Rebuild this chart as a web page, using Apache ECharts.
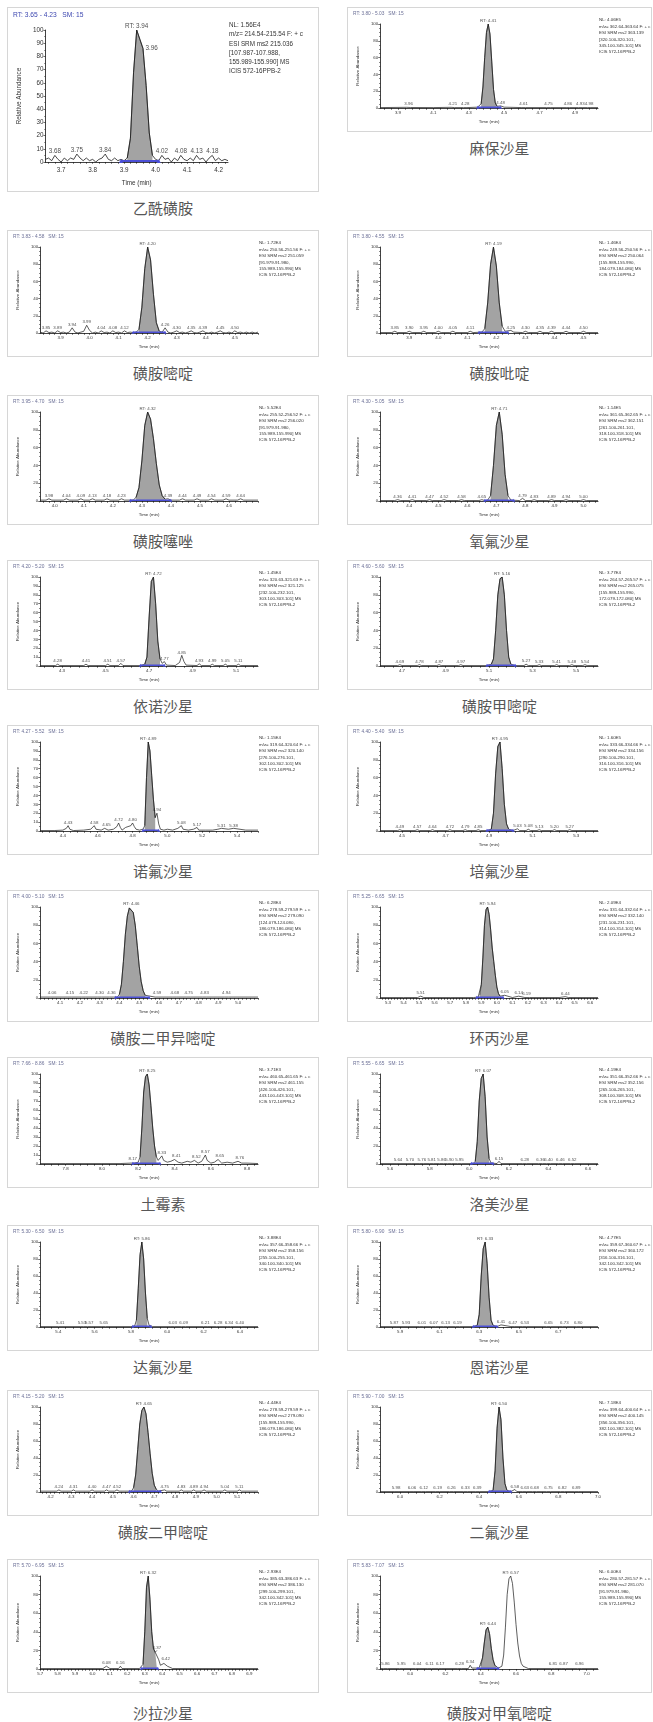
<!DOCTYPE html>
<html>
<head>
<meta charset="utf-8">
<script src="https://cdn.jsdelivr.net/npm/echarts@6/dist/echarts.min.js"></script>
<style>
  body { margin: 0; background: #fff; }
  #page { position: relative; width: 653px; height: 1722px; background: #fff; }
  .panel { position: absolute; border: 1px solid #d6d6d6; background: #fff; }
  .panel .chart { position: absolute; left: 0; top: 0; }
  .cap {
    position: absolute; width: 300px; margin-left: -150px; text-align: center;
    font-family: 'Noto Sans CJK SC', sans-serif; font-size: 15px; color: #575757;
    line-height: 20px; margin-top: -10px;
  }
</style>
</head>
<body>
<div id="page"></div>
<script>
  // ---- data ----
  const names = ['乙酰磺胺', '麻保沙星', '磺胺嘧啶', '磺胺吡啶', '磺胺噻唑', '氧氟沙星', '依诺沙星', '磺胺甲嘧啶',
    '诺氟沙星', '培氟沙星', '磺胺二甲异嘧啶', '环丙沙星', '土霉素', '洛美沙星', '达氟沙星', '恩诺沙星',
    '磺胺二甲嘧啶', '二氟沙星', '沙拉沙星', '磺胺对甲氧嘧啶'];

  const xRanges = [[3.65, 4.23], [3.80, 5.03], [3.83, 4.58], [3.80, 4.55], [3.95, 4.70], [4.30, 5.05], [4.20, 5.20],
    [4.60, 5.60], [4.27, 5.52], [4.40, 5.40], [4.00, 5.10], [5.25, 6.65], [7.66, 8.86], [5.55, 6.65], [5.30, 6.50],
    [5.80, 6.90], [4.15, 5.20], [5.90, 7.00], [5.70, 6.95], [5.83, 7.065]];

  const xTicks = [
    [3.7, 3.8, 3.9, 4.0, 4.1, 4.2],
    [3.9, 4.1, 4.3, 4.5, 4.7, 4.9],
    [3.9, 4.0, 4.1, 4.2, 4.3, 4.4, 4.5],
    [3.9, 4.0, 4.1, 4.2, 4.3, 4.4, 4.5],
    [4.0, 4.1, 4.2, 4.3, 4.4, 4.5, 4.6],
    [4.4, 4.5, 4.6, 4.7, 4.8, 4.9, 5.0],
    [4.3, 4.5, 4.7, 4.9, 5.1],
    [4.7, 4.9, 5.1, 5.3, 5.5],
    [4.4, 4.6, 4.8, 5.0, 5.2, 5.4],
    [4.5, 4.7, 4.9, 5.1, 5.3],
    [4.1, 4.2, 4.3, 4.4, 4.5, 4.6, 4.7, 4.8, 4.9, 5.0],
    [5.3, 5.4, 5.5, 5.6, 5.7, 5.8, 5.9, 6.0, 6.1, 6.2, 6.3, 6.4, 6.5, 6.6],
    [7.8, 8.0, 8.2, 8.4, 8.6, 8.8],
    [5.6, 5.8, 6.0, 6.2, 6.4, 6.6],
    [5.4, 5.6, 5.8, 6.0, 6.2, 6.4],
    [5.9, 6.1, 6.3, 6.5, 6.7],
    [4.2, 4.3, 4.4, 4.5, 4.6, 4.7, 4.8, 4.9, 5.0, 5.1],
    [6.0, 6.2, 6.4, 6.6, 6.8, 7.0],
    [5.7, 5.8, 5.9, 6.0, 6.1, 6.2, 6.3, 6.4, 6.5, 6.6, 6.7, 6.8, 6.9],
    [6.0, 6.2, 6.4, 6.6, 6.8, 7.0]
  ];

  const yTicks = [10, 20, 20, 20, 20, 20, 10, 20, 10, 20, 20, 20, 10, 20, 20, 20, 20, 20, 20, 20];

  // integrated (grey) peak and blue baseline limits, minutes
  const fills = [[3.905, 3.995], [4.36, 4.46], [4.165, 4.245], [4.155, 4.225], [4.275, 4.385], [4.675, 4.745],
    [4.675, 4.755], [5.105, 5.205], [4.865, 4.935], [4.905, 4.995], [4.395, 4.535], [5.885, 6.025], [8.205, 8.305],
    [6.025, 6.105], [5.825, 5.895], [6.285, 6.375], [4.595, 4.715], [6.465, 6.545], [6.285, 6.37], [6.395, 6.495]];
  const bases = [[3.89, 4.01], [4.35, 4.48], [4.15, 4.26], [4.14, 4.24], [4.26, 4.40], [4.66, 4.76], [4.66, 4.77],
    [5.09, 5.22], [4.86, 4.95], [4.89, 5.01], [4.38, 4.55], [5.87, 6.04], [8.17, 8.32], [6.01, 6.12], [5.81, 5.91],
    [6.27, 6.39], [4.58, 4.73], [6.45, 6.56], [6.28, 6.375], [6.38, 6.50]];

  const nl = ['1.56E4', '4.06E5', '1.72E4', '1.46E4', '5.52E4', '1.14E5', '1.45E4', '3.77E4', '1.15E4', '1.60E5',
    '6.28E4', '2.09E4', '3.71E3', '4.19E4', '3.88E4', '4.77E5', '4.44E4', '7.18E4', '2.93E4', '6.00E4'];
  const precursors = ['215.036', '363.139', '251.059', '250.064', '256.020', '362.151', '321.125', '265.075',
    '320.140', '334.156', '279.090', '332.140', '461.155', '352.156', '358.156', '360.172', '279.090', '400.145',
    '386.130', '281.070'];
  const products = ['107.987-107.988, 155.989-155.990', '320.100-320.101, 345.100-345.101', '91.979-91.980, 155.989-155.990',
    '155.989-155.990, 184.079-184.080', '91.979-91.980, 155.989-155.990', '261.100-261.101, 318.100-318.101',
    '232.100-232.101, 303.100-303.101', '155.989-155.990, 172.079-172.080', '276.100-276.101, 302.100-302.101',
    '290.100-290.101, 316.100-316.101', '124.079-124.080, 186.079-186.080', '231.100-231.101, 314.100-314.101',
    '426.100-426.101, 443.100-443.101', '265.100-265.101, 308.100-308.101', '255.100-255.101, 340.100-340.101',
    '316.100-316.101, 342.100-342.101', '155.989-155.990, 186.079-186.080', '356.100-356.101, 382.100-382.101',
    '299.100-299.101, 342.100-342.101', '91.979-91.980, 155.989-155.990'];

  // chromatogram traces: [time (min), relative abundance %]
  const tr1 = [[3.65,2],[3.66,3],[3.67,1],[3.68,5],[3.69,2],[3.70,0],[3.71,3],[3.72,1],[3.73,3],[3.74,2],[3.75,6],[3.76,3],[3.77,1],[3.78,3],[3.79,1],[3.80,2],[3.81,0],[3.82,2],[3.83,3],[3.84,6],[3.85,2],[3.86,1],[3.87,3],[3.88,1],[3.89,2],[3.90,1],[3.91,3],[3.92,18],[3.93,68],[3.94,100],[3.95,93],[3.96,86],[3.97,58],[3.98,22],[3.99,5],[4.00,2],[4.01,1],[4.02,5],[4.03,2],[4.04,3],[4.05,0],[4.06,3],[4.07,1],[4.08,5],[4.09,2],[4.10,1],[4.11,3],[4.12,1],[4.13,5],[4.14,2],[4.15,3],[4.16,0],[4.17,3],[4.18,5],[4.19,1],[4.20,3],[4.21,1],[4.22,2],[4.23,1]];
  const tr2 = [[3.80,0.5],[3.95,0.8],[3.96,2],[3.97,0.6],[4.10,0.5],[4.20,0.8],[4.21,2],[4.22,0.5],[4.27,0.5],[4.28,1.5],[4.29,0.5],[4.35,1],[4.37,5],[4.38,25],[4.39,60],[4.40,90],[4.41,100],[4.42,88],[4.43,55],[4.44,22],[4.45,6],[4.46,2],[4.48,2.5],[4.50,1],[4.60,0.5],[4.61,1.5],[4.62,0.5],[4.74,0.5],[4.75,1.5],[4.76,0.5],[4.85,0.5],[4.86,1.5],[4.87,0.5],[4.92,0.5],[4.93,1.5],[4.94,0.5],[4.97,0.5],[4.98,1.5],[4.99,0.5],[5.03,0.5]];
  const tr3 = [[3.83,1],[3.84,0],[3.85,2.5],[3.86,0.5],[3.87,1],[3.88,0],[3.89,2.5],[3.90,0.5],[3.91,1],[3.92,0],[3.93,1],[3.94,6],[3.95,1],[3.96,0],[3.97,1],[3.98,2],[3.99,9],[4.00,3],[4.01,0],[4.02,1],[4.03,0],[4.04,2.5],[4.05,0.5],[4.06,1],[4.07,0],[4.08,2.5],[4.09,0.5],[4.10,1],[4.11,0],[4.12,2.5],[4.13,0.5],[4.14,1],[4.15,0.5],[4.16,1],[4.17,4],[4.18,30],[4.19,75],[4.20,100],[4.21,85],[4.22,45],[4.23,12],[4.24,2],[4.25,1],[4.26,6],[4.27,1],[4.28,0],[4.29,1],[4.30,2.5],[4.31,0.5],[4.32,1],[4.33,0],[4.34,1],[4.35,2.5],[4.36,0.5],[4.37,0],[4.38,1],[4.39,2.5],[4.40,0.5],[4.41,0],[4.42,1],[4.43,0],[4.44,1],[4.45,2.5],[4.46,0.5],[4.47,0],[4.48,1],[4.49,0],[4.50,2.5],[4.51,0.5],[4.52,1],[4.53,0],[4.54,1],[4.55,0],[4.56,1],[4.57,0],[4.58,1]];
  const tr4 = [[3.80,0.5],[3.84,0.5],[3.85,2],[3.86,0.5],[3.89,0.5],[3.90,2],[3.91,0.5],[3.94,0.5],[3.95,2],[3.96,0.5],[3.99,0.5],[4.00,2],[4.01,0.5],[4.04,0.5],[4.05,2],[4.06,0.5],[4.10,0.5],[4.11,2],[4.12,0.5],[4.15,1],[4.16,5],[4.17,35],[4.18,80],[4.19,100],[4.20,78],[4.21,35],[4.22,8],[4.23,2],[4.25,3],[4.26,1],[4.29,0.5],[4.30,2],[4.31,0.5],[4.34,0.5],[4.35,2],[4.36,0.5],[4.38,0.5],[4.39,2],[4.40,0.5],[4.43,0.5],[4.44,2],[4.45,0.5],[4.49,0.5],[4.50,2],[4.51,0.5],[4.55,0.5]];
  const tr5 = [[3.95,1],[3.97,1],[3.98,2.5],[3.99,1],[4.03,1],[4.04,2.5],[4.05,1],[4.08,1],[4.09,2.5],[4.10,1],[4.12,1],[4.13,2.5],[4.14,1],[4.17,1],[4.18,2.5],[4.19,1],[4.22,1],[4.23,2.5],[4.24,1],[4.27,1],[4.28,4],[4.29,15],[4.30,45],[4.31,85],[4.32,100],[4.33,92],[4.34,70],[4.35,42],[4.36,18],[4.37,6],[4.38,2],[4.39,2.5],[4.40,1],[4.43,1],[4.44,2.5],[4.45,1],[4.48,1],[4.49,2.5],[4.50,1],[4.53,1],[4.54,2.5],[4.55,1],[4.58,1],[4.59,2.5],[4.60,1],[4.63,1],[4.64,2.5],[4.65,1],[4.70,1]];
  const tr6 = [[4.30,0.5],[4.35,0.5],[4.36,1.5],[4.37,0.5],[4.40,0.5],[4.41,1.5],[4.42,0.5],[4.46,0.5],[4.47,1.5],[4.48,0.5],[4.51,0.5],[4.52,1.5],[4.53,0.5],[4.57,0.5],[4.58,1.5],[4.59,0.5],[4.64,0.5],[4.65,1.5],[4.66,0.5],[4.67,1],[4.68,6],[4.69,40],[4.70,85],[4.71,100],[4.72,75],[4.73,30],[4.74,6],[4.75,1],[4.78,0.5],[4.79,3],[4.80,0.5],[4.82,0.5],[4.83,1.5],[4.84,0.5],[4.88,0.5],[4.89,1.5],[4.90,0.5],[4.93,0.5],[4.94,1.5],[4.95,0.5],[4.99,0.5],[5.00,1.5],[5.01,0.5],[5.05,0.5]];
  const tr7 = [[4.20,0.5],[4.27,0.5],[4.28,2],[4.29,0.5],[4.40,0.5],[4.41,2],[4.42,0.5],[4.50,0.5],[4.51,2],[4.52,0.5],[4.56,0.5],[4.57,3],[4.58,0.5],[4.66,0.5],[4.68,2],[4.69,10],[4.70,55],[4.71,95],[4.72,100],[4.73,70],[4.74,28],[4.75,8],[4.76,3],[4.77,5],[4.78,1],[4.82,0.5],[4.84,4],[4.85,12],[4.86,5],[4.87,1],[4.92,0.5],[4.93,2.5],[4.94,0.5],[4.98,0.5],[4.99,2],[5.00,0.5],[5.04,0.5],[5.05,2],[5.06,0.5],[5.10,0.5],[5.11,2],[5.12,0.5],[5.20,0.5]];
  const tr8 = [[4.60,0.5],[4.68,0.5],[4.69,1.5],[4.70,0.5],[4.77,0.5],[4.78,1.5],[4.79,0.5],[4.86,0.5],[4.87,1.5],[4.88,0.5],[4.96,0.5],[4.97,1.5],[4.98,0.5],[5.09,0.5],[5.11,2],[5.12,8],[5.13,40],[5.14,80],[5.15,98],[5.16,100],[5.17,80],[5.18,40],[5.19,10],[5.20,2],[5.22,0.5],[5.26,0.5],[5.27,2],[5.28,0.5],[5.32,0.5],[5.33,1.5],[5.34,0.5],[5.40,0.5],[5.41,1.5],[5.42,0.5],[5.47,0.5],[5.48,1.5],[5.49,0.5],[5.53,0.5],[5.54,1.5],[5.55,0.5],[5.60,0.5]];
  const tr9 = [[4.27,0.5],[4.35,0.5],[4.40,1],[4.42,3],[4.43,6],[4.44,2],[4.46,0.5],[4.52,1],[4.56,2],[4.58,6],[4.59,2],[4.62,1],[4.64,3],[4.65,4],[4.66,1],[4.69,2],[4.71,5],[4.72,9],[4.73,4],[4.74,1],[4.76,4],[4.77,2],[4.79,6],[4.80,9],[4.81,5],[4.82,2],[4.84,1],[4.86,2],[4.87,6],[4.88,60],[4.89,100],[4.90,90],[4.91,62],[4.92,35],[4.93,15],[4.94,20],[4.95,8],[4.96,2],[4.98,1],[5.00,2],[5.03,1],[5.06,3],[5.08,6],[5.09,2],[5.12,1],[5.15,2],[5.17,4],[5.18,1],[5.22,1],[5.26,1],[5.29,2],[5.31,3],[5.32,1],[5.35,2],[5.38,3],[5.39,1],[5.45,1],[5.52,1]];
  const tr10 = [[4.40,0.5],[4.48,0.5],[4.49,1.5],[4.50,0.5],[4.56,0.5],[4.57,1.5],[4.58,0.5],[4.63,0.5],[4.64,1.5],[4.65,0.5],[4.71,0.5],[4.72,1.5],[4.73,0.5],[4.78,0.5],[4.79,1.5],[4.80,0.5],[4.84,0.5],[4.85,1.5],[4.86,0.5],[4.89,0.5],[4.91,2],[4.92,20],[4.93,65],[4.94,95],[4.95,100],[4.96,70],[4.97,30],[4.98,8],[4.99,2],[5.01,0.5],[5.03,2.5],[5.04,0.5],[5.07,0.5],[5.08,2],[5.09,0.5],[5.12,0.5],[5.13,1.5],[5.14,0.5],[5.19,0.5],[5.20,1.5],[5.21,0.5],[5.26,0.5],[5.27,1.5],[5.28,0.5],[5.40,0.5]];
  const tr11 = [[4.00,1],[4.05,1],[4.06,2.5],[4.07,1],[4.14,1],[4.15,2.5],[4.16,1],[4.21,1],[4.22,2.5],[4.23,1],[4.29,1],[4.30,2.5],[4.31,1],[4.35,1],[4.36,2.5],[4.37,1],[4.39,1],[4.40,4],[4.41,15],[4.42,40],[4.43,70],[4.44,90],[4.45,99],[4.46,100],[4.47,94],[4.48,80],[4.49,58],[4.50,35],[4.51,18],[4.52,8],[4.53,3],[4.54,1],[4.58,1],[4.59,2.5],[4.60,1],[4.67,1],[4.68,2.5],[4.69,1],[4.74,1],[4.75,2.5],[4.76,1],[4.82,1],[4.83,2.5],[4.84,1],[4.93,1],[4.94,2.5],[4.95,1],[5.10,1]];
  const tr12 = [[5.25,0.5],[5.40,0.5],[5.49,0.5],[5.51,2],[5.53,0.5],[5.70,0.5],[5.85,0.5],[5.88,1],[5.89,3],[5.90,15],[5.91,45],[5.92,80],[5.93,97],[5.94,100],[5.95,92],[5.96,75],[5.97,55],[5.98,40],[5.99,25],[6.00,12],[6.01,5],[6.02,2],[6.03,1],[6.05,3],[6.06,1],[6.10,0.5],[6.14,2],[6.15,0.5],[6.18,0.5],[6.19,1.5],[6.21,0.5],[6.40,0.5],[6.44,1.5],[6.46,0.5],[6.65,0.5]];
  const tr13 = [[7.66,0.5],[7.80,0.5],[8.00,0.5],[8.10,0.5],[8.16,1],[8.17,3],[8.18,1],[8.20,2],[8.21,8],[8.22,40],[8.23,80],[8.24,97],[8.25,100],[8.26,88],[8.27,65],[8.28,40],[8.29,20],[8.30,8],[8.31,4],[8.32,6],[8.33,9],[8.34,4],[8.36,2],[8.38,3],[8.40,5],[8.41,6],[8.42,2],[8.44,1],[8.47,3],[8.49,2],[8.51,4],[8.52,5],[8.53,1],[8.55,3],[8.57,10],[8.58,4],[8.60,1],[8.62,2],[8.64,5],[8.65,6],[8.66,1],[8.69,2],[8.72,1],[8.75,3],[8.76,4],[8.77,1],[8.80,1],[8.86,0.5]];
  const tr14 = [[5.55,0.5],[5.63,0.5],[5.64,1.5],[5.65,0.5],[5.69,0.5],[5.70,1.5],[5.71,0.5],[5.75,0.5],[5.76,1.5],[5.77,0.5],[5.80,0.5],[5.81,1.5],[5.82,0.5],[5.85,0.5],[5.86,1.5],[5.87,0.5],[5.89,0.5],[5.90,1.5],[5.91,0.5],[5.94,0.5],[5.95,1.5],[5.96,0.5],[6.02,0.5],[6.03,3],[6.04,25],[6.05,70],[6.06,95],[6.07,100],[6.08,75],[6.09,30],[6.10,6],[6.11,1],[6.14,0.5],[6.15,3],[6.16,0.5],[6.27,0.5],[6.28,1.5],[6.29,0.5],[6.35,0.5],[6.36,1.5],[6.37,0.5],[6.39,0.5],[6.40,1.5],[6.41,0.5],[6.45,0.5],[6.46,1.5],[6.47,0.5],[6.51,0.5],[6.52,1.5],[6.53,0.5],[6.65,0.5]];
  const tr15 = [[5.30,0.5],[5.40,0.5],[5.41,1.5],[5.42,0.5],[5.52,0.5],[5.53,1.5],[5.54,0.5],[5.56,0.5],[5.57,1.5],[5.58,0.5],[5.64,0.5],[5.65,1.5],[5.66,0.5],[5.80,0.5],[5.82,1],[5.83,8],[5.84,45],[5.85,85],[5.86,100],[5.87,80],[5.88,40],[5.89,10],[5.90,2],[5.92,0.5],[6.02,0.5],[6.03,1.5],[6.04,0.5],[6.08,0.5],[6.09,1.5],[6.10,0.5],[6.20,0.5],[6.21,1.5],[6.22,0.5],[6.27,0.5],[6.28,1.5],[6.29,0.5],[6.33,0.5],[6.34,1.5],[6.35,0.5],[6.39,0.5],[6.40,1.5],[6.41,0.5],[6.50,0.5]];
  const tr16 = [[5.80,0.5],[5.86,0.5],[5.87,1.5],[5.88,0.5],[5.92,0.5],[5.93,1.5],[5.94,0.5],[6.00,0.5],[6.01,1.5],[6.02,0.5],[6.06,0.5],[6.07,1.5],[6.08,0.5],[6.12,0.5],[6.13,1.5],[6.14,0.5],[6.18,0.5],[6.19,1.5],[6.20,0.5],[6.27,0.5],[6.29,2],[6.30,15],[6.31,60],[6.32,92],[6.33,100],[6.34,75],[6.35,35],[6.36,8],[6.37,2],[6.39,0.5],[6.41,2.5],[6.42,0.5],[6.46,0.5],[6.47,2],[6.48,0.5],[6.52,0.5],[6.53,1.5],[6.54,0.5],[6.64,0.5],[6.65,1.5],[6.66,0.5],[6.72,0.5],[6.73,1.5],[6.74,0.5],[6.79,0.5],[6.80,1.5],[6.81,0.5],[6.90,0.5]];
  const tr17 = [[4.15,1],[4.23,1],[4.24,2.5],[4.25,1],[4.30,1],[4.31,2.5],[4.32,1],[4.39,1],[4.40,2.5],[4.41,1],[4.46,1],[4.47,2.5],[4.48,1],[4.51,1],[4.52,2.5],[4.53,1],[4.59,1],[4.60,5],[4.61,20],[4.62,50],[4.63,80],[4.64,96],[4.65,100],[4.66,92],[4.67,70],[4.68,45],[4.69,22],[4.70,8],[4.71,3],[4.72,1],[4.75,2.5],[4.76,1],[4.82,1],[4.83,2.5],[4.84,1],[4.88,1],[4.89,2.5],[4.90,1],[4.93,1],[4.94,2.5],[4.95,1],[5.03,1],[5.04,2.5],[5.05,1],[5.10,1],[5.11,2.5],[5.12,1],[5.20,1]];
  const tr18 = [[5.90,0.5],[5.97,0.5],[5.98,1.5],[5.99,0.5],[6.05,0.5],[6.06,1.5],[6.07,0.5],[6.11,0.5],[6.12,1.5],[6.13,0.5],[6.18,0.5],[6.19,1.5],[6.20,0.5],[6.25,0.5],[6.26,1.5],[6.27,0.5],[6.32,0.5],[6.33,1.5],[6.34,0.5],[6.38,0.5],[6.39,1.5],[6.40,0.5],[6.45,0.5],[6.47,2],[6.48,25],[6.49,75],[6.50,100],[6.51,85],[6.52,40],[6.53,10],[6.54,2],[6.56,0.5],[6.58,3],[6.59,0.5],[6.62,0.5],[6.63,1.5],[6.64,0.5],[6.67,0.5],[6.68,1.5],[6.69,0.5],[6.74,0.5],[6.75,1.5],[6.76,0.5],[6.81,0.5],[6.82,1.5],[6.83,0.5],[6.88,0.5],[6.89,1.5],[6.90,0.5],[7.00,0.5]];
  const tr19 = [[5.70,0.5],[5.90,0.5],[6.06,0.5],[6.07,1.5],[6.08,3],[6.09,1],[6.10,0.5],[6.15,0.5],[6.16,3],[6.17,0.5],[6.27,0.5],[6.28,1],[6.29,5],[6.30,40],[6.31,88],[6.32,100],[6.33,75],[6.34,40],[6.35,22],[6.36,18],[6.37,20],[6.38,10],[6.39,4],[6.40,3],[6.41,6],[6.42,8],[6.43,3],[6.44,1],[6.46,0.5],[6.60,0.5],[6.95,0.5]];
  const tr20 = [[5.83,0.5],[5.85,0.5],[5.86,2],[5.87,0.5],[5.94,0.5],[5.95,2],[5.96,0.5],[6.03,0.5],[6.04,2],[6.05,0.5],[6.10,0.5],[6.11,2],[6.12,0.5],[6.16,0.5],[6.17,2],[6.18,0.5],[6.27,0.5],[6.28,2],[6.29,0.5],[6.33,0.5],[6.34,4],[6.35,1],[6.39,1],[6.40,3],[6.41,12],[6.42,28],[6.43,42],[6.44,45],[6.45,38],[6.46,22],[6.47,10],[6.48,4],[6.49,2],[6.50,1],[6.51,1],[6.52,3],[6.53,15],[6.54,45],[6.55,80],[6.56,97],[6.57,100],[6.58,92],[6.59,72],[6.60,48],[6.61,28],[6.62,14],[6.63,6],[6.64,3],[6.65,1],[6.67,0.5],[6.80,0.5],[6.81,2],[6.82,0.5],[6.86,0.5],[6.87,2],[6.88,0.5],[6.95,0.5],[6.96,2],[6.97,0.5],[7.065,0.5]];
  const traces = [tr1, tr2, tr3, tr4, tr5, tr6, tr7, tr8, tr9, tr10, tr11, tr12, tr13, tr14, tr15, tr16, tr17, tr18, tr19, tr20];

  // peak annotations: [time, abundance, text, (label side)]
  const lb1 = [[3.94,100,'RT: 3.94'],[3.965,86,'3.96','right'],[3.68,5,'3.68'],[3.75,6,'3.75'],[3.84,6,'3.84'],[4.02,5,'4.02'],[4.08,5,'4.08'],[4.13,5,'4.13'],[4.18,5,'4.18']];
  const lb2 = [[4.41,100,'RT: 4.41'],[3.96,2,'3.96'],[4.21,2,'4.21'],[4.28,1.5,'4.28'],[4.48,2.5,'4.48'],[4.61,1.5,'4.61'],[4.75,1.5,'4.75'],[4.86,1.5,'4.86'],[4.93,1.5,'4.93'],[4.98,1.5,'4.98']];
  const lb3 = [[4.20,100,'RT: 4.20'],[3.85,2.5,'3.85'],[3.89,2.5,'3.89'],[3.94,6,'3.94'],[3.99,9,'3.99'],[4.04,2.5,'4.04'],[4.08,2.5,'4.08'],[4.12,2.5,'4.12'],[4.26,6,'4.26'],[4.30,2.5,'4.30'],[4.35,2.5,'4.35'],[4.39,2.5,'4.39'],[4.45,2.5,'4.45'],[4.50,2.5,'4.50']];
  const lb4 = [[4.19,100,'RT: 4.19'],[3.85,2,'3.85'],[3.90,2,'3.90'],[3.95,2,'3.95'],[4.00,2,'4.00'],[4.05,2,'4.05'],[4.11,2,'4.11'],[4.25,3,'4.25'],[4.30,2,'4.30'],[4.35,2,'4.35'],[4.39,2,'4.39'],[4.44,2,'4.44'],[4.50,2,'4.50']];
  const lb5 = [[4.32,100,'RT: 4.32'],[3.98,2.5,'3.98'],[4.04,2.5,'4.04'],[4.09,2.5,'4.09'],[4.13,2.5,'4.13'],[4.18,2.5,'4.18'],[4.23,2.5,'4.23'],[4.39,2.5,'4.39'],[4.44,2.5,'4.44'],[4.49,2.5,'4.49'],[4.54,2.5,'4.54'],[4.59,2.5,'4.59'],[4.64,2.5,'4.64']];
  const lb6 = [[4.71,100,'RT: 4.71'],[4.36,1.5,'4.36'],[4.41,1.5,'4.41'],[4.47,1.5,'4.47'],[4.52,1.5,'4.52'],[4.58,1.5,'4.58'],[4.65,1.5,'4.65'],[4.79,3,'4.79'],[4.83,1.5,'4.83'],[4.89,1.5,'4.89'],[4.94,1.5,'4.94'],[5.00,1.5,'5.00']];
  const lb7 = [[4.72,100,'RT: 4.72'],[4.28,2,'4.28'],[4.41,2,'4.41'],[4.51,2,'4.51'],[4.57,3,'4.57'],[4.77,5,'4.77'],[4.85,12,'4.85'],[4.93,2.5,'4.93'],[4.99,2,'4.99'],[5.05,2,'5.05'],[5.11,2,'5.11']];
  const lb8 = [[5.16,100,'RT: 5.16'],[4.69,1.5,'4.69'],[4.78,1.5,'4.78'],[4.87,1.5,'4.87'],[4.97,1.5,'4.97'],[5.27,2,'5.27'],[5.33,1.5,'5.33'],[5.41,1.5,'5.41'],[5.48,1.5,'5.48'],[5.54,1.5,'5.54']];
  const lb9 = [[4.89,100,'RT: 4.89'],[4.94,20,'4.94'],[4.43,6,'4.43'],[4.58,6,'4.58'],[4.65,4,'4.65'],[4.72,9,'4.72'],[4.80,9,'4.80'],[5.08,6,'5.08'],[5.17,4,'5.17'],[5.31,3,'5.31'],[5.38,3,'5.38']];
  const lb10 = [[4.95,100,'RT: 4.95'],[4.49,1.5,'4.49'],[4.57,1.5,'4.57'],[4.64,1.5,'4.64'],[4.72,1.5,'4.72'],[4.79,1.5,'4.79'],[4.85,1.5,'4.85'],[5.03,2.5,'5.03'],[5.08,2,'5.08'],[5.13,1.5,'5.13'],[5.20,1.5,'5.20'],[5.27,1.5,'5.27']];
  const lb11 = [[4.46,100,'RT: 4.46'],[4.06,2.5,'4.06'],[4.15,2.5,'4.15'],[4.22,2.5,'4.22'],[4.30,2.5,'4.30'],[4.36,2.5,'4.36'],[4.59,2.5,'4.59'],[4.68,2.5,'4.68'],[4.75,2.5,'4.75'],[4.83,2.5,'4.83'],[4.94,2.5,'4.94']];
  const lb12 = [[5.94,100,'RT: 5.94'],[5.51,2,'5.51'],[6.05,3,'6.05'],[6.14,2,'6.14'],[6.19,1.5,'6.19'],[6.44,1.5,'6.44']];
  const lb13 = [[8.25,100,'RT: 8.25'],[8.17,3,'8.17'],[8.33,9,'8.33'],[8.41,6,'8.41'],[8.52,5,'8.52'],[8.57,10,'8.57'],[8.65,6,'8.65'],[8.76,4,'8.76']];
  const lb14 = [[6.07,100,'RT: 6.07'],[5.64,1.5,'5.64'],[5.70,1.5,'5.70'],[5.76,1.5,'5.76'],[5.81,1.5,'5.81'],[5.86,1.5,'5.86'],[5.90,1.5,'5.90'],[5.95,1.5,'5.95'],[6.15,3,'6.15'],[6.28,1.5,'6.28'],[6.36,1.5,'6.36'],[6.40,1.5,'6.40'],[6.46,1.5,'6.46'],[6.52,1.5,'6.52']];
  const lb15 = [[5.86,100,'RT: 5.86'],[5.41,1.5,'5.41'],[5.53,1.5,'5.53'],[5.57,1.5,'5.57'],[5.65,1.5,'5.65'],[6.03,1.5,'6.03'],[6.09,1.5,'6.09'],[6.21,1.5,'6.21'],[6.28,1.5,'6.28'],[6.34,1.5,'6.34'],[6.40,1.5,'6.40']];
  const lb16 = [[6.33,100,'RT: 6.33'],[5.87,1.5,'5.87'],[5.93,1.5,'5.93'],[6.01,1.5,'6.01'],[6.07,1.5,'6.07'],[6.13,1.5,'6.13'],[6.19,1.5,'6.19'],[6.41,2.5,'6.41'],[6.47,2,'6.47'],[6.53,1.5,'6.53'],[6.65,1.5,'6.65'],[6.73,1.5,'6.73'],[6.80,1.5,'6.80']];
  const lb17 = [[4.65,100,'RT: 4.65'],[4.24,2.5,'4.24'],[4.31,2.5,'4.31'],[4.40,2.5,'4.40'],[4.47,2.5,'4.47'],[4.52,2.5,'4.52'],[4.75,2.5,'4.75'],[4.83,2.5,'4.83'],[4.89,2.5,'4.89'],[4.94,2.5,'4.94'],[5.04,2.5,'5.04'],[5.11,2.5,'5.11']];
  const lb18 = [[6.50,100,'RT: 6.50'],[5.98,1.5,'5.98'],[6.06,1.5,'6.06'],[6.12,1.5,'6.12'],[6.19,1.5,'6.19'],[6.26,1.5,'6.26'],[6.33,1.5,'6.33'],[6.39,1.5,'6.39'],[6.58,3,'6.58'],[6.63,1.5,'6.63'],[6.68,1.5,'6.68'],[6.75,1.5,'6.75'],[6.82,1.5,'6.82'],[6.89,1.5,'6.89']];
  const lb19 = [[6.32,100,'RT: 6.32'],[6.37,20,'6.37'],[6.42,8,'6.42'],[6.08,3,'6.08'],[6.16,3,'6.16']];
  const lb20 = [[6.44,45,'RT: 6.44'],[6.57,100,'RT: 6.57'],[5.86,2,'5.86'],[5.95,2,'5.95'],[6.04,2,'6.04'],[6.11,2,'6.11'],[6.17,2,'6.17'],[6.28,2,'6.28'],[6.34,4,'6.34'],[6.81,2,'6.81'],[6.87,2,'6.87'],[6.96,2,'6.96']];
  const labels = [lb1, lb2, lb3, lb4, lb5, lb6, lb7, lb8, lb9, lb10, lb11, lb12, lb13, lb14, lb15, lb16, lb17, lb18, lb19, lb20];

  // ---- layout ----
  const rowTops = [7, 230, 395, 560, 725, 890, 1057, 1225, 1390, 1559];
  const rowHeights = [131, 127, 130, 130, 130, 132, 131, 126, 126, 134];
  function box(i) {
    const row = Math.floor(i / 2), right = i % 2 === 1;
    const x = right ? 347 : 7, w = right ? 305 : 312;
    let h = rowHeights[row], gap = row === 9 ? 20 : 16;
    if (i === 0) h = 185;
    if (i === 1) h = 125;
    return { x, y: rowTops[row], w, h, gap };
  }

  function minorTicks(lo, hi, major) {
    const step = (major[1] - major[0]) / 5;
    let v = major[0];
    while (v - step >= lo - 1e-9) v -= step;
    const out = [];
    for (; v <= hi + 1e-9; v += step) out.push(+v.toFixed(4));
    return out;
  }

  function buildOption(i, h) {
    const big = i === 0;
    const fs = big ? 6.3 : 4.4;
    const grid = big ? { left: 25, top: 22, width: 195, height: 134 }
                     : { left: 24, top: 16, width: 226, height: h - 41 };
    const tr = traces[i], f = fills[i], b = bases[i];
    const peak = tr.filter(d => d[0] >= f[0] && d[0] <= f[1]);
    const r = xRanges[i];
    const header = 'RT: ' + r[0].toFixed(2) + ' - ' + r[1].toFixed(2) + '   SM: 15';
    const info = 'NL: ' + nl[i] + '\nm/z= ' + (parseFloat(precursors[i]) - 0.5).toFixed(2) + '-' +
      (parseFloat(precursors[i]) + 0.5).toFixed(2) + ' F: + c\nESI SRM ms2 ' + precursors[i] + '\n[' +
      products[i].split(', ')[0] + ',\n' + products[i].split(', ')[1] + '] MS\nICIS 572-16PPB-2';
    return {
      animation: false,
      textStyle: { fontFamily: 'Liberation Sans' },
      grid: grid,
      graphic: [
        { type: 'text', left: 5, top: big ? 4 : 3,
          style: { text: header, fontSize: fs + 0.4, fill: big ? '#3d47b0' : '#6b6f96', fontFamily: 'Liberation Sans' } },
        { type: 'text', left: grid.left + grid.width + 1, top: big ? 13 : 9,
          style: { text: info, fontSize: fs, lineHeight: fs * 1.45, fill: '#333', fontFamily: 'Liberation Sans' } }
      ],
      xAxis: {
        type: 'value', min: r[0], max: r[1],
        name: 'Time (min)', nameLocation: 'middle', nameGap: big ? 18 : 12,
        nameTextStyle: { fontSize: fs, color: '#333' },
        axisLine: { lineStyle: { color: '#111', width: 0.8 } },
        axisTick: { customValues: minorTicks(r[0], r[1], xTicks[i]), length: 1.8, lineStyle: { color: '#111', width: 0.6 } },
        axisLabel: { customValues: xTicks[i], fontSize: fs, color: '#333', margin: big ? 5 : 3,
          formatter: v => v.toFixed(1) },
        splitLine: { show: false }
      },
      yAxis: {
        type: 'value', min: 0, max: 100, interval: yTicks[i],
        name: 'Relative Abundance', nameLocation: 'middle', nameGap: big ? 17 : 13,
        nameTextStyle: { fontSize: fs, color: '#333' },
        axisLine: { show: true, lineStyle: { color: '#111', width: 0.8 } },
        axisTick: { show: true, length: 2, lineStyle: { color: '#111', width: 0.6 } },
        minorTick: { show: true, splitNumber: yTicks[i] === 10 ? 2 : 4, length: 1.2, lineStyle: { color: '#111', width: 0.5 } },
        axisLabel: { fontSize: fs, color: '#333', margin: 2 },
        splitLine: { show: false }
      },
      series: [
        { type: 'line', data: peak, showSymbol: false, z: 2,
          lineStyle: { color: '#222', width: 0.6 }, areaStyle: { color: '#a3a3a3', opacity: 1 } },
        { type: 'line', data: tr, showSymbol: false, z: 3,
          lineStyle: { color: '#1a1a1a', width: big ? 0.8 : 0.7 } },
        { type: 'line', data: [[b[0], 0.8], [b[1], 0.8]], symbol: 'triangle', symbolSize: big ? 4 : 3, z: 4,
          itemStyle: { color: '#4b4fd6' }, lineStyle: { color: '#4b4fd6', width: big ? 2 : 1.6 } },
        { type: 'scatter', symbolSize: 0, z: 5,
          data: labels[i].map(l => ({ value: [l[0], l[1]], name: l[2],
            label: { position: l[3] || 'top' } })),
          label: { show: true, formatter: '{b}', fontSize: fs, color: '#222', distance: 1 } }
      ]
    };
  }

  const page = document.getElementById('page');
  names.forEach((n, i) => {
    const bx = box(i);
    const panel = document.createElement('div');
    panel.className = 'panel';
    panel.style.left = bx.x + 'px';
    panel.style.top = bx.y + 'px';
    panel.style.width = (bx.w - 2) + 'px';
    panel.style.height = (bx.h - 2) + 'px';
    const el = document.createElement('div');
    el.className = 'chart';
    el.style.width = (bx.w - 2) + 'px';
    el.style.height = (bx.h - 2) + 'px';
    panel.appendChild(el);
    page.appendChild(panel);

    const cap = document.createElement('div');
    cap.className = 'cap';
    cap.style.left = (bx.x + bx.w / 2) + 'px';
    cap.style.top = (bx.y + bx.h + bx.gap) + 'px';
    cap.textContent = n;
    page.appendChild(cap);

    const chart = echarts.init(el);
    chart.setOption(buildOption(i, bx.h));
  });
</script>
</body>
</html>
